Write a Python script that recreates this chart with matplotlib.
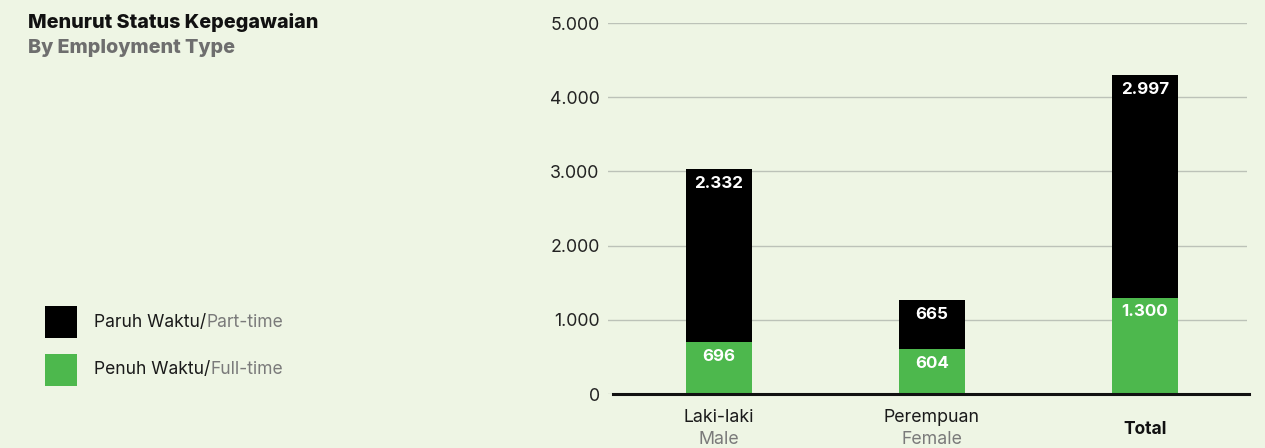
import matplotlib
matplotlib.use("Agg")
import matplotlib.pyplot as plt
from matplotlib.patches import Rectangle

categories_id = ["Laki-laki", "Perempuan", "Total"]
categories_en = ["Male", "Female", ""]
full_time = [696, 604, 1300]
part_time = [2332, 665, 2997]
y_ticks = [0, 1000, 2000, 3000, 4000, 5000]
y_tick_labels = ["0", "1.000", "2.000", "3.000", "4.000", "5.000"]
series_id = ["Paruh Waktu/", "Penuh Waktu/"]
series_en = ["Part-time", "Full-time"]

BG = "#EEF5E4"
GREEN = "#4DB84D"
BLACK = "#000000"
GRAY = "#7A7A7A"
FONT = ["Inter", "DejaVu Sans"]

plt.rcParams["font.family"] = FONT

fig = plt.figure(figsize=(12.65, 4.48), dpi=100, facecolor=BG)
ax = fig.add_axes([608 / 1265, 54 / 448, (1247 - 608) / 1265, (425 - 54) / 448])
ax.set_facecolor(BG)

x = list(range(len(categories_id)))
w = 0.31
ax.bar(x, full_time, width=w, color=GREEN, zorder=2)
ax.bar(x, part_time, width=w, bottom=full_time, color=BLACK, zorder=2)

def fmt(v):
    return f"{v:,}".replace(",", ".")

for i in x:
    ax.annotate(fmt(full_time[i]), (i, full_time[i]), xytext=(0, -5), textcoords="offset points",
                ha="center", va="top", color="white", fontsize=12.2, fontweight="bold", zorder=3)
    top = full_time[i] + part_time[i]
    ax.annotate(fmt(part_time[i]), (i, top), xytext=(0, -5), textcoords="offset points",
                ha="center", va="top", color="white", fontsize=12.2, fontweight="bold", zorder=3)

ax.set_xlim(-0.521, 2.479)
ax.set_ylim(0, 5000)
ax.set_yticks(y_ticks)
ax.set_yticklabels(y_tick_labels, fontsize=12.8, color="#222222")
ax.yaxis.grid(True, color="#BCC2B8", linewidth=1, zorder=0)
ax.set_axisbelow(True)
ax.tick_params(axis="y", length=0, pad=6)
ax.tick_params(axis="x", length=0)
ax.set_xticks([])
for s in ax.spines.values():
    s.set_visible(False)
ax.axhline(0, xmin=5 / 639, xmax=1.003, color="#111111", linewidth=2.2, zorder=4, clip_on=False)

# category labels
for i in x:
    if categories_en[i]:
        ax.text(i, -310, categories_id[i], ha="center", va="center", fontsize=12.8, color="#1a1a1a")
        ax.text(i, -610, categories_en[i], ha="center", va="center", fontsize=12.8, color=GRAY)
    else:
        ax.text(i, -475, categories_id[i], ha="center", va="center", fontsize=12.5, color="#111111",
                fontweight="bold")

# title
fig.text(28 / 1265, 1 - 22 / 448, "Menurut Status Kepegawaian", fontsize=14.2, fontweight="heavy",
         color="#111111", ha="left", va="center")
fig.text(28 / 1265, 1 - 48 / 448, "By Employment Type", fontsize=14.2, fontweight="heavy",
         color="#6E6E6E", ha="left", va="center")

# legend
fig.canvas.draw()
renderer = fig.canvas.get_renderer()
leg_colors = [BLACK, GREEN]
leg_y = [322, 370]
for c, yc, sid, sen in zip(leg_colors, leg_y, series_id, series_en):
    fig.patches.append(Rectangle((45 / 1265, 1 - (yc + 16) / 448), 32 / 1265, 32 / 448,
                                 transform=fig.transFigure, facecolor=c, edgecolor="none"))
    t = fig.text(94 / 1265, 1 - yc / 448, sid, fontsize=12.6, color="#1a1a1a", ha="left", va="center")
    bb = t.get_window_extent(renderer)
    fig.text(bb.x1 / 1265, 1 - yc / 448, sen, fontsize=12.6, color=GRAY, ha="left", va="center")

fig.savefig("out.png", dpi=100, facecolor=BG)
